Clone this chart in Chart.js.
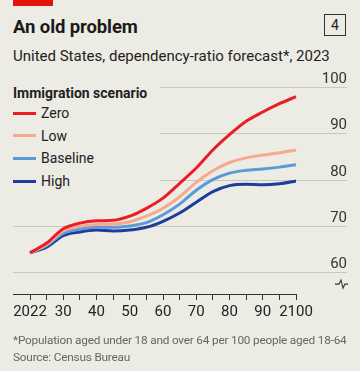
<!DOCTYPE html>
<html>
<head>
<meta charset="utf-8">
<title>An old problem</title>
<script src="https://cdn.jsdelivr.net/npm/chart.js@4.4.1/dist/chart.umd.min.js"></script>
<style>
    body {
        margin: 0;
        width: 360px;
        height: 371px;
        background: #ecebe4;
        position: relative;
        overflow: hidden;
        font-family: Roboto, "Noto Sans", sans-serif;
        color: #1a1a1a;
    }
    .redbar { position: absolute; left: 13px; top: 0; width: 40px; height: 6px; background: #e3120b; }
    .title { position: absolute; left: 13px; top: 16px; font-size: 18.5px; font-weight: 700; line-height: 22px; letter-spacing: -0.1px; }
    .num { position: absolute; left: 324px; top: 14px; width: 20px; height: 20px; border: 1px solid #333;
           font-size: 14px; line-height: 20px; text-align: center; color: #222; }
    .subtitle { position: absolute; left: 13px; top: 46px; font-size: 15px; line-height: 20px; color: #222; white-space: nowrap; }
    #chart { position: absolute; left: 0; top: 66px; }
    .legend { position: absolute; left: 13px; top: 84px; width: 147px; height: 112px; background: #ecebe4; }
    .legend h3 { margin: 0; font-size: 14px; font-weight: 700; line-height: 18px; color: #222; }
    .legend .item { height: 22.6px; display: flex; align-items: center; font-size: 14px; color: #222; }
    .legend .sw { width: 23px; height: 3px; margin-right: 5px; }
    .note { position: absolute; left: 13px; top: 332px; font-size: 11.8px; line-height: 16.5px; color: #666;
            white-space: nowrap; letter-spacing: -0.2px; }
</style>
</head>
<body>
<div class="redbar"></div>
<div class="title">An old problem</div>
<div class="num">4</div>
<div class="subtitle">United States, dependency-ratio forecast*, 2023</div>
<canvas id="chart" width="360" height="270"></canvas>
<div class="legend" id="legend">
    <h3>Immigration scenario</h3>
</div>
<div class="note">*Population aged under 18 and over 64 per 100 people aged 18-64<br>Source: Census Bureau</div>

<script>
// years on the axis (first point is 2022, then every five years)
const years = ['2022', '2025', '2030', '2035', '2040', '2045', '2050', '2055', '2060',
               '2065', '2070', '2075', '2080', '2085', '2090', '2095', '2100'];

const zero     = [64.2, 66.3, 69.4, 70.6, 71.1, 71.2, 72.1, 73.8, 76.0, 79.2, 82.5, 86.4, 89.7, 92.6, 94.6, 96.4, 97.9];
const low      = [64.2, 66.0, 68.9, 69.9, 70.3, 70.4, 70.9, 72.1, 73.8, 76.3, 79.4, 81.9, 83.7, 84.7, 85.3, 85.8, 86.4];
const baseline = [64.2, 65.8, 68.4, 69.3, 69.7, 69.7, 70.0, 70.7, 72.4, 74.7, 77.7, 80.0, 81.4, 82.0, 82.3, 82.7, 83.2];
const high     = [64.2, 65.4, 67.9, 68.7, 69.1, 68.9, 69.1, 69.7, 71.0, 72.8, 75.1, 77.4, 78.7, 79.0, 78.9, 79.1, 79.7];

const yTicks = [60, 70, 80, 90, 100];

const series = [
    { label: 'Zero', data: zero, color: '#ec1c24' },
    { label: 'Low', data: low, color: '#f7a98f' },
    { label: 'Baseline', data: baseline, color: '#5b9ad8' },
    { label: 'High', data: high, color: '#1f3c9c' }
];

// gridlines, y labels, baseline and the axis-break mark
const frame = {
    id: 'frame',
    beforeDatasetsDraw(chart) {
        const { ctx, chartArea, scales: { x, y } } = chart;
        const left = chartArea.left - 17;
        const right = chartArea.right + 51;
        ctx.save();

        ctx.strokeStyle = '#c9c8c0';
        ctx.lineWidth = 1;
        yTicks.forEach(v => {
            const py = Math.round(y.getPixelForValue(v)) + 0.5;
            ctx.beginPath();
            ctx.moveTo(left, py);
            ctx.lineTo(right, py);
            ctx.stroke();
        });

        ctx.fillStyle = '#333';
        ctx.font = '15px Roboto';
        ctx.textAlign = 'right';
        ctx.textBaseline = 'alphabetic';
        yTicks.forEach(v => {
            ctx.fillText(String(v), right, y.getPixelForValue(v) - 4);
        });

        const by = Math.round(chartArea.bottom) + 0.5;
        ctx.strokeStyle = '#333';
        ctx.lineWidth = 1.2;
        ctx.beginPath();
        ctx.moveTo(left, by);
        ctx.lineTo(x.getPixelForValue(years.length - 1) + 0.5, by);
        ctx.stroke();

        // break symbol between 60 and the baseline
        const my = (y.getPixelForValue(60) + chartArea.bottom) / 2 + 1;
        ctx.lineWidth = 1.1;
        ctx.beginPath();
        ctx.moveTo(right - 12, my);
        ctx.lineTo(right - 8, my);
        ctx.lineTo(right - 6, my - 4);
        ctx.lineTo(right - 4, my + 4);
        ctx.lineTo(right - 2, my);
        ctx.lineTo(right + 1, my);
        ctx.stroke();

        ctx.restore();
    }
};

function renderLegend() {
    const box = document.getElementById('legend');
    series.forEach(s => {
        const row = document.createElement('div');
        row.className = 'item';
        row.innerHTML = `<span class="sw" style="background:${s.color}"></span>${s.label}`;
        box.appendChild(row);
    });
}

function renderChart() {
    const ctx = document.getElementById('chart').getContext('2d');

    new Chart(ctx, {
        type: 'line',
        data: {
            labels: years,
            datasets: series.map(s => ({
                label: s.label,
                data: s.data,
                borderColor: s.color,
                backgroundColor: s.color,
                borderWidth: 3,
                pointRadius: 0,
                cubicInterpolationMode: 'monotone',
                fill: false
            }))
        },
        options: {
            responsive: false,
            animation: false,
            layout: {
                padding: { left: 30, right: 64, top: 21, bottom: 12 }
            },
            plugins: {
                legend: { display: false },
                tooltip: { enabled: false }
            },
            scales: {
                x: {
                    offset: false,
                    border: { display: false },
                    grid: {
                        drawOnChartArea: false,
                        drawTicks: true,
                        tickLength: 6,
                        color: '#333',
                        lineWidth: 1
                    },
                    ticks: {
                        autoSkip: false,
                        maxRotation: 0,
                        padding: 3,
                        color: '#222',
                        font: { family: 'Roboto', size: 15 },
                        callback: (val, i) => {
                            const yr = years[i];
                            if (i === 0) return yr;
                            if (yr.endsWith('5')) return '';
                            return yr === '2100' ? yr : yr.slice(2);
                        }
                    }
                },
                y: {
                    display: false,
                    min: 55.3,
                    max: 100
                }
            }
        },
        plugins: [frame]
    });
}

document.addEventListener('DOMContentLoaded', () => {
    renderLegend();
    renderChart();
});
</script>
</body>
</html>
